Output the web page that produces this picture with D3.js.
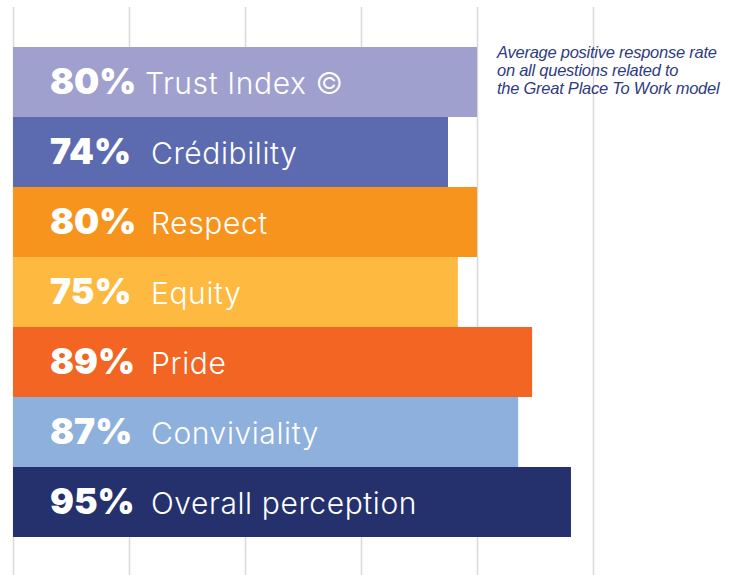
<!DOCTYPE html>
<html><head><meta charset="utf-8">
<script src="https://cdn.jsdelivr.net/npm/d3@7"></script>
<style>body{margin:0;background:#fff}svg{display:block}</style>
</head><body>
<svg id="c" width="739" height="575"></svg>
<script>
const categories = ["Trust Index ©", "Crédibility", "Respect", "Equity", "Pride", "Conviviality", "Overall perception"];
const percentLabels = [80, 74, 80, 75, 89, 87, 95];
const barLengths = [80, 75, 80, 76.7, 89.5, 87.1, 96.2];
const colors = ["#a0a0ce", "#5c6bb0", "#f7941e", "#fdb940", "#f26522", "#8db0dc", "#25316c"];
const gridTicks = [0, 20, 40, 60, 80, 100];
const noteLines = ["Average positive response rate", "on all questions related to", "the Great Place To Work model"];

const svg = d3.select("#c");
const x = d3.scaleLinear().domain([0, 100]).range([13, 593]);
const y = d3.scaleBand().domain(categories).range([47, 537]).padding(0);

svg.append("g").selectAll("line").data(gridTicks).join("line")
  .attr("x1", d => x(d) + 0.5).attr("x2", d => x(d) + 0.5)
  .attr("y1", 7).attr("y2", 575)
  .attr("stroke", "#d9d9d9").attr("stroke-width", 1.5);

svg.append("g").selectAll("rect").data(categories).join("rect")
  .attr("x", x(0)).attr("y", d => y(d))
  .attr("width", (d, i) => x(barLengths[i]) - x(0))
  .attr("height", y.bandwidth())
  .attr("fill", (d, i) => colors[i]);

const rows = svg.append("g").selectAll("g").data(categories).join("g")
  .attr("transform", d => `translate(0,${y(d) + y.bandwidth() / 2 + 12})`);

rows.append("text").attr("x", 50).attr("y", 0)
  .attr("font-family", "Inter, Lato, sans-serif").attr("font-weight", 900)
  .attr("font-size", 35.5).attr("fill", "#fff")
  .text((d, i) => percentLabels[i] + "%");

rows.append("text").attr("x", (d, i) => i === 0 ? 145 : 151).attr("y", 0)
  .attr("font-family", "Inter, sans-serif").attr("font-weight", 300)
  .attr("font-size", 30).attr("letter-spacing", 0.6).attr("fill", "#fff")
  .text(d => d);

svg.append("g").selectAll("text").data(noteLines).join("text")
  .attr("x", 497).attr("y", (d, i) => 58 + i * 18)
  .attr("font-family", "'Liberation Sans Narrow', 'Liberation Sans', Arial, sans-serif")
  .attr("font-style", "italic").attr("font-size", 16.5).attr("letter-spacing", -0.25)
  .attr("fill", "#2f3b80")
  .text(d => d);
</script>
</body></html>
